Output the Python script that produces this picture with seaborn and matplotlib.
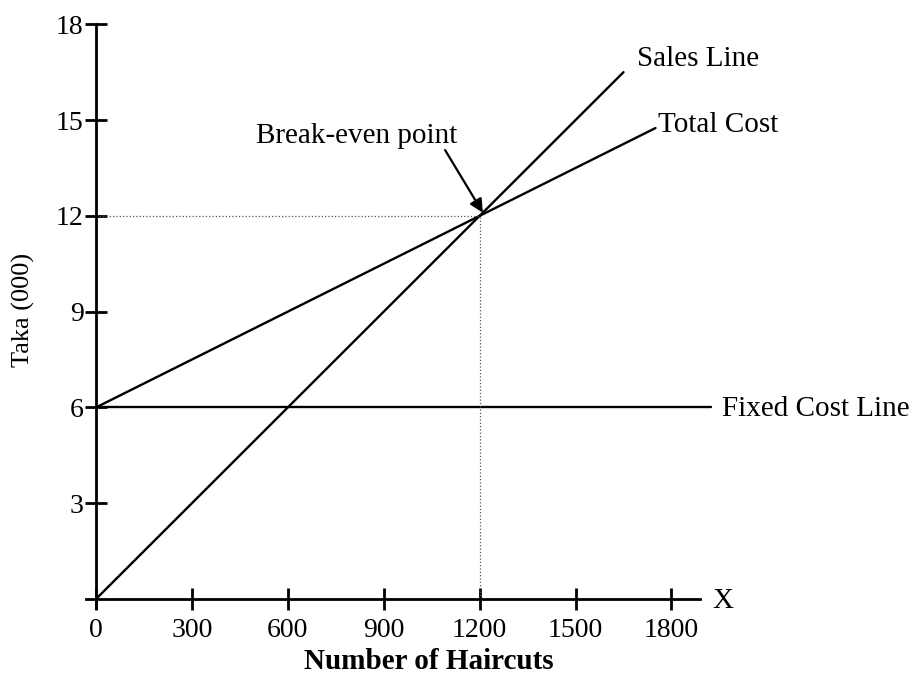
import matplotlib
matplotlib.use("Agg")
import matplotlib.pyplot as plt
import pandas as pd
import seaborn as sns

# line end points (haircuts, taka in 000)
SALES_X = [0, 1650]
SALES_Y = [0, 16.5]
TOTAL_X = [0, 1750]
TOTAL_Y = [6, 14.75]
FIXED_X = [0, 1925]
FIXED_Y = [6, 6]
BREAK_EVEN = (1200, 12)

X_TICKS = [0, 300, 600, 900, 1200, 1500, 1800]
Y_TICKS = [3, 6, 9, 12, 15, 18]

sns.set_style("white")
plt.rcParams["font.family"] = ["Liberation Serif", "DejaVu Serif"]
plt.rcParams["text.color"] = "black"

fig = plt.figure(figsize=(9.12, 6.87), dpi=100)
ax = fig.add_axes([0, 0, 1, 1])
ax.set_xlim(-300.3, 2552.4)
ax.set_ylim(-2.756, 18.76)
ax.patch.set_alpha(0)

lines = {
    "Sales Line": (SALES_X, SALES_Y),
    "Total Cost": (TOTAL_X, TOTAL_Y),
    "Fixed Cost Line": (FIXED_X, FIXED_Y),
}
for name, (xs, ys) in lines.items():
    df = pd.DataFrame({"x": xs, "y": ys})
    sns.lineplot(data=df, x="x", y="y", color="black", lw=1.7, ax=ax)

# dotted guides to the break-even point
bx, by = BREAK_EVEN
ax.plot([0, bx], [by, by], ls=":", color="#555555", lw=0.9)
ax.plot([bx, bx], [0, by], ls=":", color="#555555", lw=0.9)

# axes drawn as spines crossing at the origin
for side in ["top", "right"]:
    ax.spines[side].set_visible(False)
ax.spines["left"].set_position(("data", 0))
ax.spines["bottom"].set_position(("data", 0))
ax.spines["left"].set_bounds(-0.28, 18)
ax.spines["bottom"].set_bounds(-31, 1890)
for side in ["left", "bottom"]:
    ax.spines[side].set_linewidth(2)
    ax.spines[side].set_color("black")

ax.set_xticks(X_TICKS)
ax.set_yticks(Y_TICKS)
ax.set_xticklabels([str(t) for t in X_TICKS])
ax.set_yticklabels([str(t) for t in Y_TICKS])
ax.tick_params(axis="both", direction="inout", length=16, width=2,
               color="black", labelsize=20, labelcolor="black",
               bottom=True, left=True)
ax.tick_params(axis="x", pad=6)
ax.tick_params(axis="y", pad=1)
ax.set_xlabel("")
ax.set_ylabel("")

# labels
ax.text(1692, 16.9, "Sales Line", fontsize=21, ha="left", va="center")
ax.text(1758, 14.85, "Total Cost", fontsize=21, ha="left", va="center")
ax.text(1958, 5.95, "Fixed Cost Line", fontsize=21, ha="left", va="center")
ax.text(1927, -0.05, "X", fontsize=21, ha="left", va="center")
ax.text(815, 14.5, "Break-even point", fontsize=21, ha="center", va="center")
ax.annotate("", xy=(bx + 10, by + 0.1), xytext=(1092, 14.06),
            arrowprops=dict(arrowstyle="-|>", color="black", lw=1.6,
                            mutation_scale=20, shrinkA=0, shrinkB=0))
ax.text(-228, 9.05, "Taka (000)", fontsize=19, rotation=90,
        ha="center", va="center")
ax.text(1042, -1.97, "Number of Haircuts", fontsize=21, fontweight="bold",
        ha="center", va="center")

fig.savefig("out.png", dpi=100, facecolor="white")
